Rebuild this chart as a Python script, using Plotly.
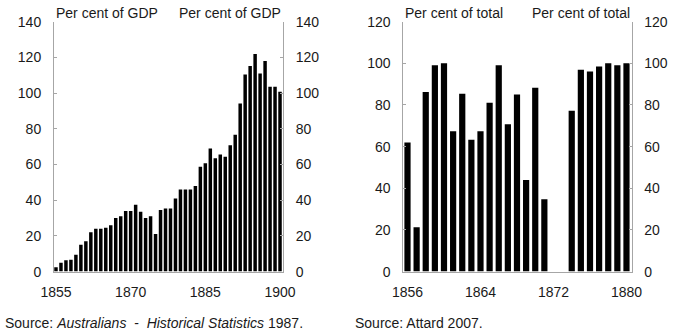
import plotly.graph_objects as go

# Left chart: Per cent of GDP, 1855-1900
years_left = list(range(1855, 1901))
gdp_values = [2.5, 5, 6.3, 6.7, 9.5, 15, 17, 22, 24, 24,
              24.5, 26, 30, 31, 34, 34, 37.5, 33.5, 30, 31,
              21, 34.5, 35.4, 35.4, 41, 46, 46, 46, 48, 58.7,
              60.7, 69, 63.5, 65.6, 64.3, 70.8, 76.6, 94.2, 110.4, 115.2,
              121.8, 111, 118, 103.5, 103.5, 100.7]

# Right chart: Per cent of total, 1856-1880
years_right = list(range(1856, 1881))
total_values = [62, 21.3, 86.2, 99, 100, 67.4, 85.4, 63.3, 67.4, 81,
                99, 70.7, 85, 44, 88.2, 34.7, None, None, 77.2, 96.9,
                96, 98.5, 100, 99, 100]

left_xticks = [1855, 1870, 1885, 1900]
right_xticks = [1856, 1864, 1872, 1880]
left_yticks = [0, 20, 40, 60, 80, 100, 120, 140]
right_yticks = [0, 20, 40, 60, 80, 100, 120]

W, H = 675, 334
FONT = "Liberation Sans, Arial, sans-serif"
GREY = "#a6a6a6"
TXT = "#1a1a1a"

yb = (H - 271.6) / H
yt = (H - 21.6) / H
dom_l = [54 / W, 283 / W]
dom_r = [403.3 / W, 631.5 / W]

fig = go.Figure()
fig.add_trace(go.Bar(x=years_left, y=gdp_values, marker=dict(color="black", line=dict(width=0)),
                     xaxis="x", yaxis="y", width=0.7, showlegend=False))
fig.add_trace(go.Bar(x=years_right, y=total_values, marker=dict(color="black", line=dict(width=0)),
                     xaxis="x2", yaxis="y3", width=0.68, showlegend=False))

yax_common = dict(showgrid=False, zeroline=False, showline=True, linecolor=GREY, linewidth=1,
                  ticks="inside", ticklen=3, tickcolor=GREY, tickwidth=1, automargin=False,
                  tickfont=dict(family=FONT, size=14, color=TXT), ticklabelstandoff=9,
                  domain=[yb, yt])
xax_common = dict(showgrid=False, zeroline=False, showline=True, linecolor=GREY, linewidth=1,
                  automargin=False,
                  ticks="", tickfont=dict(family=FONT, size=14, color=TXT), ticklabelstandoff=8)

fig.update_layout(
    width=W, height=H,
    margin=dict(l=0, r=0, t=0, b=0, pad=0, autoexpand=False),
    paper_bgcolor="white", plot_bgcolor="white",
    showlegend=False,
    bargap=0.3,
    xaxis=dict(domain=dom_l, range=[1854.6, 1900.6], tickvals=left_xticks, anchor="y", **xax_common),
    xaxis2=dict(domain=dom_r, range=[1855.54, 1880.55], tickvals=right_xticks, anchor="y3", **xax_common),
    yaxis=dict(range=[0, 140], tickvals=left_yticks, anchor="x", side="left", **yax_common),
    yaxis2=dict(range=[0, 140], tickvals=left_yticks, anchor="x", side="right", overlaying="y", **yax_common),
    yaxis3=dict(range=[0, 120], tickvals=right_yticks, anchor="x2", side="left", **yax_common),
    yaxis4=dict(range=[0, 120], tickvals=right_yticks, anchor="x2", side="right", overlaying="y3", **yax_common),
)
# invisible traces so the right-hand axes render
fig.add_trace(go.Scatter(x=[None], y=[None], xaxis="x", yaxis="y2", showlegend=False, hoverinfo="skip"))
fig.add_trace(go.Scatter(x=[None], y=[None], xaxis="x2", yaxis="y4", showlegend=False, hoverinfo="skip"))

ann_y = 1 - 13 / H
anns = [
    dict(text="Per cent of GDP", x=dom_l[0], xanchor="left"),
    dict(text="Per cent of GDP", x=dom_l[1], xanchor="right"),
    dict(text="Per cent of total", x=dom_r[0], xanchor="left"),
    dict(text="Per cent of total", x=dom_r[1], xanchor="right"),
]
for a in anns:
    fig.add_annotation(xref="paper", yref="paper", y=ann_y, yanchor="middle", showarrow=False,
                       font=dict(family=FONT, size=14, color=TXT), **a)

src_y = 1 - 322.7 / H
fig.add_annotation(xref="paper", yref="paper", x=3 / W, y=src_y, xanchor="left", yanchor="middle",
                   showarrow=False, font=dict(family=FONT, size=14, color=TXT),
                   text="Source: <i>Australians</i>\u00a0 -\u00a0 <i>Historical Statistics</i> 1987.")
fig.add_annotation(xref="paper", yref="paper", x=352.7 / W, y=src_y, xanchor="left", yanchor="middle",
                   showarrow=False, font=dict(family=FONT, size=14, color=TXT),
                   text="Source: Attard 2007.")

fig.write_html("out.html")
